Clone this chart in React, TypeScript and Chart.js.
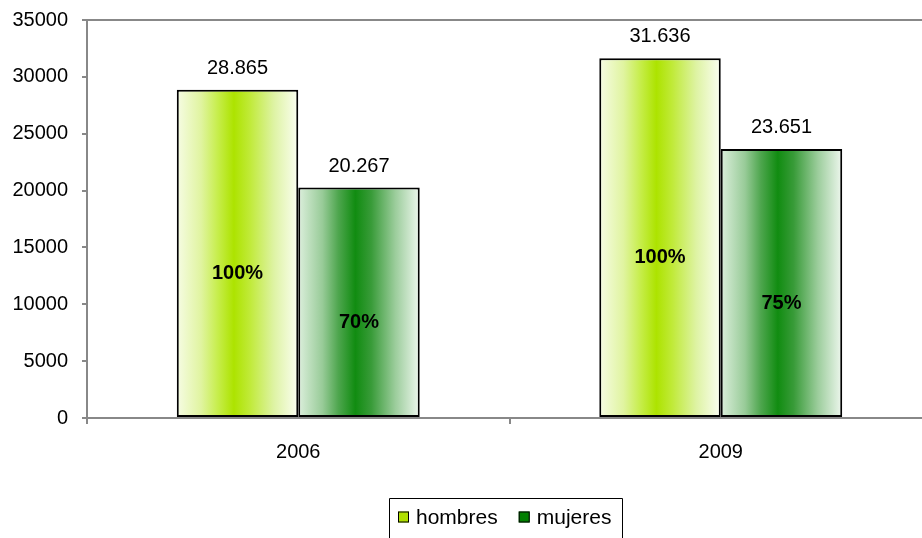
import React, { useEffect, useRef } from "react";
import { Chart, registerables } from "chart.js";

Chart.register(...registerables);

const categories = ["2006", "2009"];
const seriesNames = ["hombres", "mujeres"];
const hombresValues = [28865, 31636];
const mujeresValues = [20267, 23651];
const hombresPct = ["100%", "100%"];
const mujeresPct = ["70%", "75%"];
const yTicks = [0, 5000, 10000, 15000, 20000, 25000, 30000, 35000];

const FONT = "'Liberation Sans', Arial, sans-serif";

const gradientStops: Record<number, [number, string][]> = {
  0: [
    [0, "#f6fce4"],
    [0.2, "#e0f4a0"],
    [0.33, "#c8ee50"],
    [0.47, "#ade300"],
    [0.6, "#c0ea38"],
    [0.8, "#def3a4"],
    [1, "#fbfef2"],
  ],
  1: [
    [0, "#dcefdc"],
    [0.2, "#98cb98"],
    [0.33, "#4ea64e"],
    [0.47, "#118c11"],
    [0.6, "#389b38"],
    [0.8, "#9ccd9c"],
    [1, "#eef7ee"],
  ],
};

function fmt(v: number): string {
  return String(v).replace(/\B(?=(\d{3})+(?!\d))/g, ".");
}

const gradientPlugin = {
  id: "barGradient",
  beforeDatasetsDraw(chart: any) {
    const ctx = chart.ctx;
    chart.data.datasets.forEach((_ds: any, di: number) => {
      const meta = chart.getDatasetMeta(di);
      meta.data.forEach((el: any) => {
        const { x, width } = el.getProps(["x", "width"], true);
        const g = ctx.createLinearGradient(x - width / 2, 0, x + width / 2, 0);
        (gradientStops[di] || []).forEach(([o, c]) => g.addColorStop(o, c));
        el.options = Object.assign({}, el.options, { backgroundColor: g });
      });
    });
  },
};

const labelsPlugin = {
  id: "barLabels",
  afterDatasetsDraw(chart: any) {
    const ctx = chart.ctx;
    const pcts = [hombresPct, mujeresPct];
    ctx.save();
    chart.data.datasets.forEach((ds: any, di: number) => {
      const meta = chart.getDatasetMeta(di);
      meta.data.forEach((el: any, i: number) => {
        const { x, y, base } = el.getProps(["x", "y", "base"], true);
        ctx.fillStyle = "#000";
        ctx.textAlign = "center";
        ctx.textBaseline = "alphabetic";
        ctx.font = `20px ${FONT}`;
        ctx.fillText(fmt(ds.data[i]), x, y - 16);
        ctx.font = `bold 20px ${FONT}`;
        ctx.textBaseline = "middle";
        ctx.fillText(pcts[di][i], x, (y + base) / 2 + 20);
      });
    });
    ctx.restore();
  },
  afterDraw(chart: any) {
    const ctx = chart.ctx;
    const area = chart.chartArea;
    ctx.save();
    // top frame line
    ctx.strokeStyle = "#888";
    ctx.lineWidth = 2;
    ctx.beginPath();
    ctx.moveTo(area.left, area.top);
    ctx.lineTo(area.right, area.top);
    ctx.stroke();

    // legend
    ctx.font = `21px ${FONT}`;
    const box = 11;
    const gap = 7;
    const itemGap = 21;
    const items = chart.data.datasets.map((ds: any) => ({
      text: ds.label,
      color: ds.backgroundColor,
      w: ctx.measureText(ds.label).width,
    }));
    const total =
      items.reduce((s: number, it: any) => s + box + gap + it.w, 0) +
      itemGap * (items.length - 1);
    const cx = (area.left + area.right) / 2 - 5;
    let x = Math.round(cx - total / 2);
    const cy = 517;
    const borderLeft = x - 9;
    items.forEach((it: any) => {
      ctx.fillStyle = it.color;
      ctx.fillRect(x, cy - 5.5, box, box);
      ctx.strokeStyle = "#000";
      ctx.lineWidth = 1;
      ctx.strokeRect(x + 0.5, cy - 5.5 + 0.5, box - 1, box - 1);
      ctx.fillStyle = "#000";
      ctx.textAlign = "left";
      ctx.textBaseline = "middle";
      ctx.fillText(it.text, x + box + gap, cy + 1);
      x += box + gap + it.w + itemGap;
    });
    const borderRight = x - itemGap + 11;
    const top = 498.5;
    ctx.strokeStyle = "#000";
    ctx.lineWidth = 1;
    ctx.beginPath();
    ctx.moveTo(borderLeft + 0.5, chart.height + 2);
    ctx.lineTo(borderLeft + 0.5, top);
    ctx.lineTo(Math.round(borderRight) + 0.5, top);
    ctx.lineTo(Math.round(borderRight) + 0.5, chart.height + 2);
    ctx.stroke();
    ctx.restore();
  },
};

export default function App() {
  const canvasRef = useRef<HTMLCanvasElement | null>(null);

  useEffect(() => {
    if (!canvasRef.current) return;
    const chart = new Chart(canvasRef.current, {
      type: "bar",
      data: {
        labels: categories,
        datasets: [
          {
            label: seriesNames[0],
            data: hombresValues,
            backgroundColor: "#b0e000",
            borderColor: "#000",
            borderWidth: 2,
            borderSkipped: false,
            categoryPercentage: 0.575,
            barPercentage: 1,
          },
          {
            label: seriesNames[1],
            data: mujeresValues,
            backgroundColor: "#008000",
            borderColor: "#000",
            borderWidth: 2,
            borderSkipped: false,
            categoryPercentage: 0.575,
            barPercentage: 1,
          },
        ],
      },
      options: {
        animation: false,
        responsive: true,
        maintainAspectRatio: false,
        events: [],
        layout: { padding: { top: 20, left: 0, right: 0, bottom: 46 } },
        plugins: {
          tooltip: { enabled: false },
          legend: { display: false },
        },
        scales: {
          x: {
            grid: {
              display: true,
              drawOnChartArea: false,
              drawTicks: true,
              tickLength: 6,
              color: "#888",
              lineWidth: 2,
              offset: true,
            },
            border: { display: true, color: "#888", width: 2 },
            ticks: { font: { family: FONT, size: 20 }, color: "#000", padding: 16 },
            afterFit: (s: any) => {
              s.height = 74;
              s.paddingLeft = 0;
              s.paddingRight = 0;
            },
          },
          y: {
            min: 0,
            max: 35000,
            afterBuildTicks: (s: any) => {
              s.ticks = yTicks.map((v) => ({ value: v }));
            },
            grid: {
              display: true,
              drawOnChartArea: false,
              drawTicks: true,
              tickLength: 5,
              color: "#888",
              lineWidth: 2,
            },
            border: { display: true, color: "#888", width: 2 },
            ticks: {
              font: { family: FONT, size: 20 },
              color: "#000",
              padding: 14,
              callback: (v: any) => String(v),
            },
            afterFit: (s: any) => {
              s.width = 87;
              s.paddingTop = 0;
              s.paddingBottom = 0;
            },
          },
        },
      },
      plugins: [gradientPlugin, labelsPlugin],
    });
    return () => chart.destroy();
  }, []);

  return (
    <div style={{ position: "fixed", left: 0, top: 0, width: "932px", height: "538px", background: "#fff" }}>
      <canvas ref={canvasRef} />
    </div>
  );
}
